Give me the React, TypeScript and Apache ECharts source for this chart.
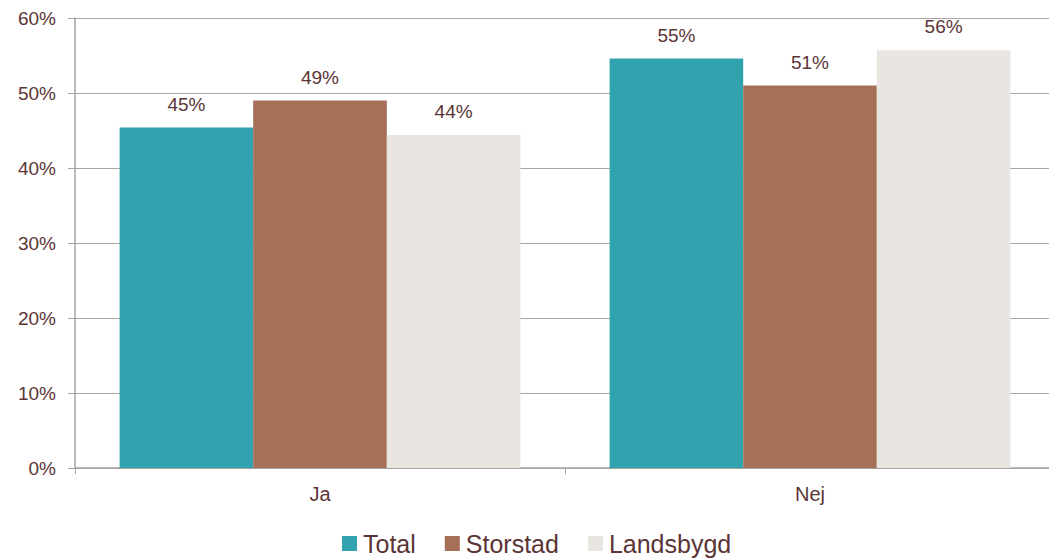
import React, { useEffect, useRef } from "react";
import * as echarts from "echarts";

const categories = ["Ja", "Nej"];
const seriesNames = ["Total", "Storstad", "Landsbygd"];
const totalValues = [45.4, 54.6];
const storstadValues = [49.0, 51.0];
const landsbygdValues = [44.4, 55.7];
const colors = ["#31a3ae", "#a66f58", "#e9e5e0"];
const textColor = "#5b3535";
const font = "'Liberation Sans', Arial, sans-serif";

export default function App() {
  const ref = useRef<HTMLDivElement>(null);
  useEffect(() => {
    if (!ref.current) return;
    const chart = echarts.init(ref.current, null, { renderer: "svg" });
    const data = [totalValues, storstadValues, landsbygdValues];
    chart.setOption({
      animation: false,
      textStyle: { fontFamily: font },
      grid: { left: 75, right: 5, top: 18, bottom: 92 },
      legend: {
        bottom: -1,
        left: 337,
        itemWidth: 15,
        itemHeight: 15,
        itemGap: 29,
        icon: "rect",
        textStyle: { color: textColor, fontSize: 25, fontFamily: font, padding: [0, 0, 0, 1] },
        data: seriesNames,
      },
      xAxis: {
        type: "category",
        data: categories,
        axisLine: { lineStyle: { color: "#a8a2a2", width: 1.5 } },
        axisTick: { show: true, length: 6, lineStyle: { color: "#a8a2a2" } },
        axisLabel: { color: textColor, fontSize: 20, fontFamily: font, margin: 16 },
      },
      yAxis: {
        type: "value",
        min: 0,
        max: 60,
        interval: 10,
        axisLine: { show: true, lineStyle: { color: "#a8a2a2", width: 1.5 } },
        axisTick: { show: true, length: 7, lineStyle: { color: "#a8a2a2" } },
        splitLine: { lineStyle: { color: "#aaa4a4", width: 1 } },
        axisLabel: {
          color: textColor,
          fontSize: 19,
          fontFamily: font,
          margin: 19,
          formatter: (v: number) => v + "%",
        },
      },
      series: seriesNames.map((name, i) => ({
        name,
        type: "bar",
        data: data[i],
        barGap: "0%",
        barCategoryGap: "18.2%",
        itemStyle: { color: colors[i] },
        label: {
          show: true,
          position: "top",
          distance: 14,
          color: textColor,
          fontSize: 19,
          fontFamily: font,
          formatter: (p: any) => Math.round(p.value) + "%",
        },
      })),
    });
    return () => chart.dispose();
  }, []);
  return (
    <div
      ref={ref}
      style={{ position: "fixed", left: 0, top: 0, width: 1060, height: 560, background: "#fff" }}
    />
  );
}
